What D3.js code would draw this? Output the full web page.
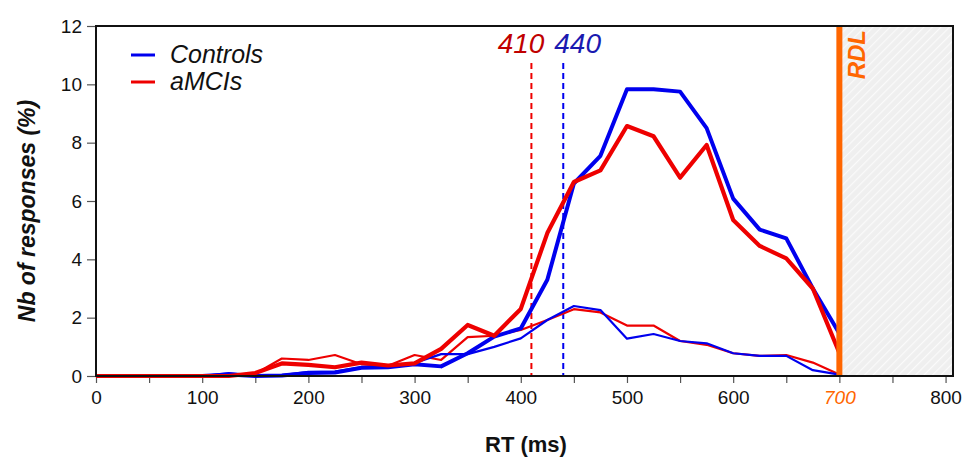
<!DOCTYPE html>
<html>
<head>
<meta charset="utf-8">
<script src="https://cdn.jsdelivr.net/npm/d3@7"></script>
<style>
  body { margin: 0; background: #fff; }
  svg { display: block; font-family: "Liberation Sans", Arial, Helvetica, sans-serif; }
</style>
</head>
<body>
<svg id="chart" width="965" height="458"></svg>
<script>
// ---- data ----
const rt = [0,25,50,75,100,125,150,175,200,225,250,275,300,325,350,375,400,425,450,475,500,525,550,575,600,625,650,675,700];
const controlsThick = [0,0,0,0,0,0.05,0,0.02,0.1,0.12,0.28,0.3,0.4,0.33,0.78,1.35,1.63,3.3,6.6,7.55,9.83,9.83,9.75,8.5,6.08,5.02,4.72,3.0,1.46];
const controlsThin  = [0,0,0,0,0,0.1,0.02,0.03,0.14,0.15,0.3,0.33,0.45,0.75,0.75,1.0,1.29,1.92,2.4,2.26,1.28,1.44,1.2,1.12,0.78,0.69,0.69,0.2,0.05];
const amciThick     = [0,0,0,0,0,0,0.1,0.43,0.38,0.3,0.46,0.36,0.43,0.93,1.75,1.38,2.3,4.9,6.65,7.05,8.57,8.22,6.8,7.92,5.35,4.46,4.03,3.0,0.79];
const amciThin      = [0,0,0,0,0,0,0.08,0.6,0.55,0.72,0.4,0.35,0.72,0.55,1.33,1.38,1.58,1.92,2.29,2.18,1.73,1.73,1.2,1.07,0.78,0.69,0.72,0.46,0.05];
const medians = [
  {label:"410", value:410, color:"#ee0000", text:"#c00000", anchor:"end", dx:13},
  {label:"440", value:440, color:"#0000ee", text:"#1a1ab0", anchor:"start", dx:-9}
];
const rdl = 700;
const xTicks = [0,100,200,300,400,500,600,700,800];
const xMinorTicks = [50,150,250,350,450,550,650,750];
const yTicks = [0,2,4,6,8,10,12];
const legendItems = [ {name:"Controls", color:"#0000ee"}, {name:"aMCIs", color:"#ee0000"} ];

// ---- layout ----
const svg = d3.select("#chart");
const L = 96, R = 953, T = 26, B = 376;
const x = d3.scaleLinear().domain([0, 807]).range([L, R]);
const y = d3.scaleLinear().domain([0, 12]).range([B, T]);

// hatch pattern
const defs = svg.append("defs");
const pat = defs.append("pattern").attr("id","hatch").attr("patternUnits","userSpaceOnUse")
  .attr("width",6).attr("height",6).attr("patternTransform","rotate(45)");
pat.append("rect").attr("width",6).attr("height",6).attr("fill","#efefef");
pat.append("line").attr("x1",0).attr("y1",0).attr("x2",0).attr("y2",6).attr("stroke","#fafafa").attr("stroke-width",2.5);

svg.append("rect").attr("x", x(rdl)).attr("y", T).attr("width", R - x(rdl)).attr("height", B - T).attr("fill","url(#hatch)");

// axes ticks
const yAxis = d3.axisLeft(y).tickValues(yTicks).tickSize(9).tickPadding(5).tickFormat(d3.format("d"));
const gy = svg.append("g").attr("transform", `translate(${L},0)`).call(yAxis);
gy.select(".domain").remove();
gy.selectAll(".tick line").attr("stroke","#555").attr("stroke-width",1.2);
gy.selectAll(".tick text").attr("font-size",19).attr("fill","#111");

const xAxis = d3.axisBottom(x).tickValues(xTicks).tickSize(7).tickPadding(8).tickFormat(d3.format("d"));
const gx = svg.append("g").attr("transform", `translate(0,${B})`).call(xAxis);
gx.select(".domain").remove();
gx.selectAll(".tick line").attr("stroke","#555").attr("stroke-width",1.2);
gx.selectAll(".tick text").attr("font-size",19).attr("fill","#111")
  .filter(d => d === rdl).attr("fill","#ff6600").attr("font-style","italic");
const gxm = svg.append("g").attr("transform", `translate(0,${B})`)
  .call(d3.axisBottom(x).tickValues(xMinorTicks).tickSize(7).tickFormat(""));
gxm.select(".domain").remove();
gxm.selectAll(".tick line").attr("stroke","#555").attr("stroke-width",1.2);

// median dashed lines
medians.forEach(m => {
  svg.append("line").attr("x1", x(m.value)).attr("x2", x(m.value)).attr("y1", 63).attr("y2", B)
    .attr("stroke", m.color).attr("stroke-width", 2).attr("stroke-dasharray","6,4");
  svg.append("text").attr("x", x(m.value) + m.dx).attr("y", 53).attr("text-anchor", m.anchor)
    .attr("font-size", 28).attr("font-style","italic").attr("fill", m.text).text(m.label);
});

// lines
const line = d3.line().x((d,i) => x(rt[i])).y(d => y(d));
const series = [
  {data: amciThin, color:"#ee0000", w:2.2},
  {data: controlsThin, color:"#0000ee", w:2.2},
  {data: controlsThick, color:"#0000ee", w:4},
  {data: amciThick, color:"#ee0000", w:4.2}
];
series.forEach(s => {
  svg.append("path").datum(s.data).attr("d", line).attr("fill","none")
    .attr("stroke", s.color).attr("stroke-width", s.w).attr("stroke-linejoin","round");
});

// RDL line
svg.append("line").attr("x1", x(rdl)).attr("x2", x(rdl)).attr("y1", T).attr("y2", B)
  .attr("stroke","#ff6600").attr("stroke-width",6);
svg.append("text").attr("transform", `translate(${x(rdl)+26},${T+4}) rotate(-90)`)
  .attr("text-anchor","end").attr("font-size",24).attr("font-weight","bold").attr("font-style","italic")
  .attr("fill","#ff6600").text("RDL");

// frame
svg.append("rect").attr("x", L).attr("y", T).attr("width", R - L).attr("height", B - T)
  .attr("fill","none").attr("stroke","#111").attr("stroke-width",2);

// legend
legendItems.forEach((d,i) => {
  const yy = 55 + i*27;
  svg.append("line").attr("x1",131).attr("x2",155).attr("y1",yy).attr("y2",yy)
    .attr("stroke", d.color).attr("stroke-width",3);
  svg.append("text").attr("x",170).attr("y",yy+8).attr("font-size",25).attr("font-style","italic")
    .attr("fill","#111").text(d.name);
});

// axis titles
svg.append("text").attr("x", 526).attr("y", 452).attr("text-anchor","middle")
  .attr("font-size",22).attr("font-weight","bold").attr("fill","#111").text("RT (ms)");
svg.append("text").attr("transform", `translate(35,${(T+B)/2+10}) rotate(-90)`).attr("text-anchor","middle")
  .attr("font-size",23).attr("font-weight","bold").attr("font-style","italic").attr("fill","#111")
  .text("Nb of responses (%)");
</script>
</body>
</html>
